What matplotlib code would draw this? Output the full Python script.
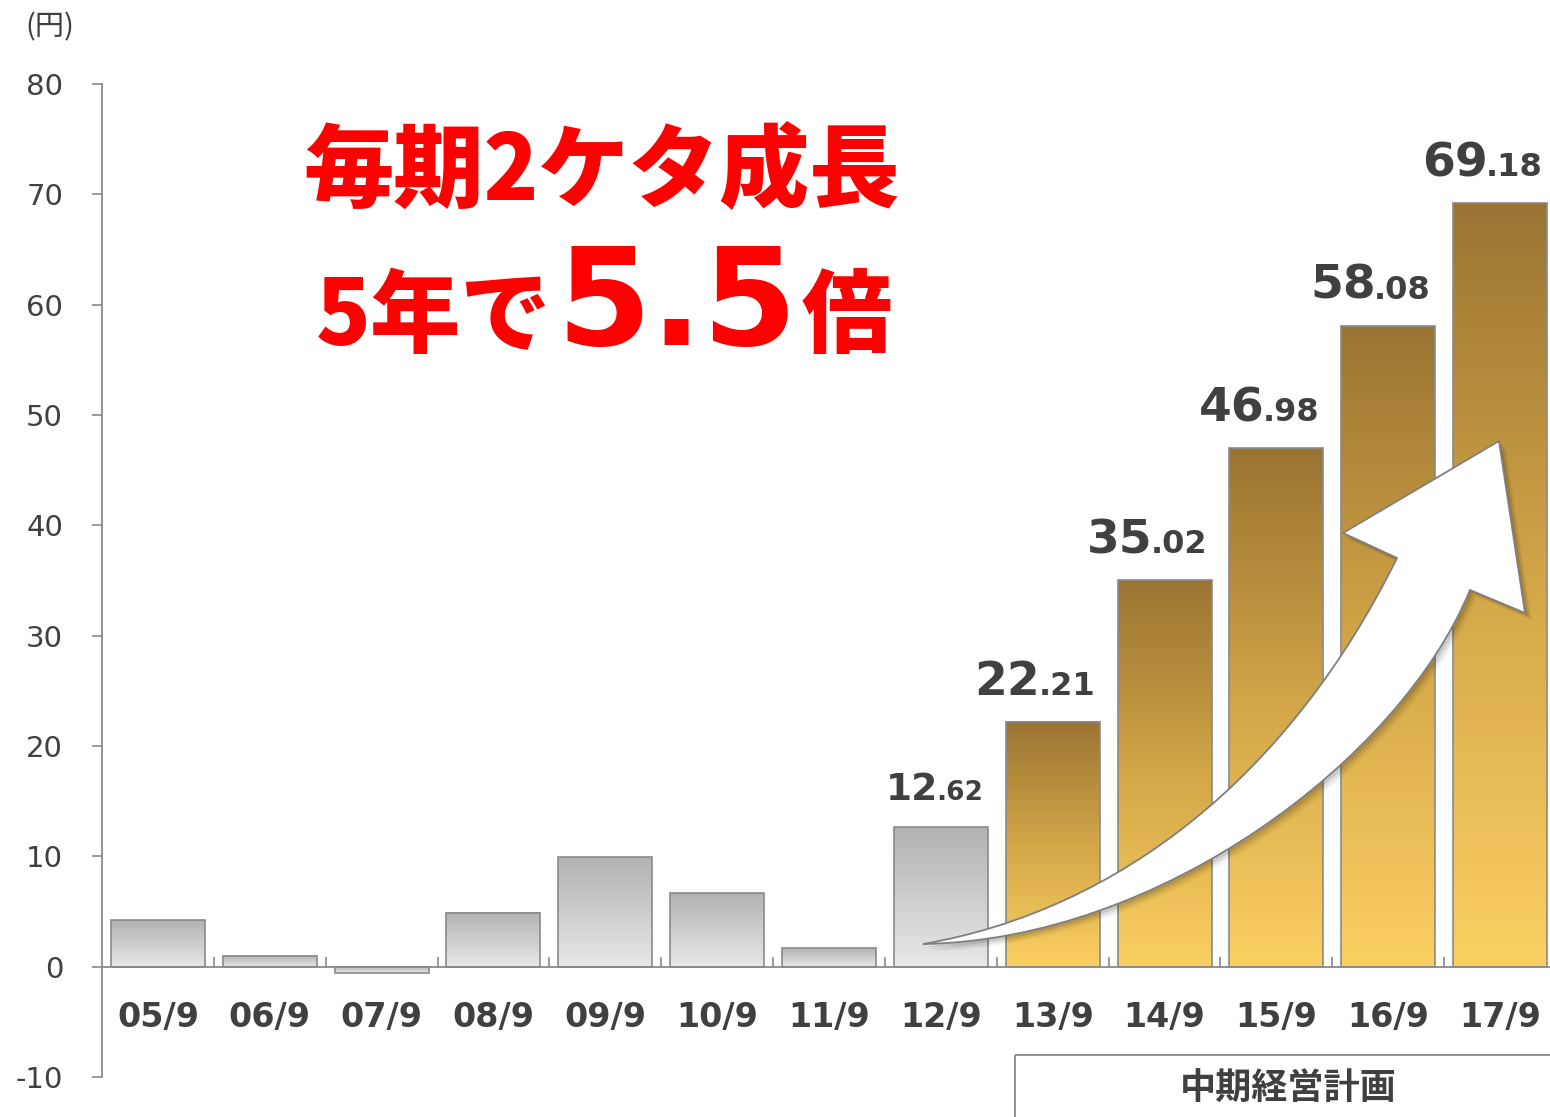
import numpy as np
import matplotlib
matplotlib.use("Agg")
import matplotlib.pyplot as plt
from matplotlib.colors import LinearSegmentedColormap
from matplotlib.path import Path
from matplotlib.patches import PathPatch, Rectangle
from matplotlib.transforms import Affine2D

# ── Données ────────────────────────────────────────────────────────────────────
periodes = ["05/9", "06/9", "07/9", "08/9", "09/9", "10/9", "11/9",
            "12/9", "13/9", "14/9", "15/9", "16/9", "17/9"]
valeurs = [4.2, 1.0, -0.6, 4.9, 9.9, 6.7, 1.7,
           12.62, 22.21, 35.02, 46.98, 58.08, 69.18]
avec_etiquette = [7, 8, 9, 10, 11, 12]   # barres annotées
debut_plan = 8                          # 13/9 → début du plan à moyen terme
yticks = list(range(-10, 90, 10))

# ── Styles ─────────────────────────────────────────────────────────────────────
W, H = 1550, 1117
CJK = ["Noto Sans CJK JP", "DejaVu Sans"]
TXT = "#404040"
GRIS = "#8a8a8a"
ROUGE = "#ff0000"
cm_gris = LinearSegmentedColormap.from_list("gris", ["#b2b2b2", "#e8e8e8"])
cm_or = LinearSegmentedColormap.from_list("or", ["#9a7432", "#d3a648", "#fbd062"])

plt.rcParams["font.family"] = ["DejaVu Sans", "Noto Sans CJK JP"]
plt.rcParams["axes.unicode_minus"] = False

fig = plt.figure(figsize=(W / 100, H / 100), dpi=100)
ax = fig.add_axes([102 / W, (H - 1077) / H, (1556 - 102) / W, (1077 - 84) / H])
px = Affine2D().scale(1 / W, -1 / H).translate(0, 1) + fig.transFigure

# ── Barres avec dégradé ────────────────────────────────────────────────────────
larg = 0.84
x = np.arange(len(valeurs))
grad = np.linspace(0, 1, 256).reshape(-1, 1)
for i, v in enumerate(valeurs):
    cmap = cm_or if i >= debut_plan else cm_gris
    ax.imshow(grad, cmap=cmap, origin="upper", aspect="auto", interpolation="bilinear",
              extent=(i - larg / 2, i + larg / 2, min(0, v), max(0, v)), zorder=2)
ax.bar(x, valeurs, width=larg, facecolor="none", edgecolor=GRIS, linewidth=1.2, zorder=3)

ax.set_xlim(-0.5, 12.5)
ax.set_ylim(-10, 80)

# ── Axes ───────────────────────────────────────────────────────────────────────
for s in ["top", "right"]:
    ax.spines[s].set_visible(False)
ax.spines["bottom"].set_position(("data", 0))
ax.spines["left"].set_color(GRIS)
ax.spines["bottom"].set_color(GRIS)
ax.spines["left"].set_linewidth(1.3)
ax.spines["bottom"].set_linewidth(1.3)

ax.set_yticks(yticks)
ax.tick_params(axis="y", direction="out", length=7, width=1.2, color=GRIS,
               labelsize=21, labelcolor=TXT, pad=21)
ax.set_xticks(x)
ax.set_xticklabels(periodes, fontsize=24, fontweight="bold", color=TXT)
ax.tick_params(axis="x", which="major", length=0, pad=25)
ax.set_xticks(x[:-1] + 0.5, minor=True)
ax.tick_params(axis="x", which="minor", direction="in", length=7, width=1.2, color=GRIS)

# ── Étiquettes de valeur (partie entière grande, décimales petites) ───────────
fig.canvas.draw()
rend = fig.canvas.get_renderer()
for i in avec_etiquette:
    v = valeurs[i]
    ent, dec = f"{v:.2f}".split(".")
    fs_g, fs_p = (27, 19) if i == 7 else (34, 23)
    xr = i + 0.38
    t_p = ax.annotate("." + dec, xy=(xr, v), xytext=(0, 27), textcoords="offset pixels",
                      ha="right", va="baseline", fontsize=fs_p, fontweight="bold",
                      color=TXT, zorder=6)
    w = t_p.get_window_extent(rend).width
    ax.annotate(ent, xy=(xr, v), xytext=(-w + 2, 27), textcoords="offset pixels",
                ha="right", va="baseline", fontsize=fs_g, fontweight="bold",
                color=TXT, zorder=6)

# ── Flèche courbe blanche ──────────────────────────────────────────────────────
pts = [(923, 944), (1120, 910), (1290, 775), (1397, 558),
       (1343, 533), (1499, 441), (1525, 613), (1470, 590),
       (1400, 760), (1160, 940), (923, 944), (923, 944)]
codes = [Path.MOVETO, Path.CURVE4, Path.CURVE4, Path.CURVE4,
         Path.LINETO, Path.LINETO, Path.LINETO, Path.LINETO,
         Path.CURVE4, Path.CURVE4, Path.CURVE4, Path.CLOSEPOLY]
fleche = Path(pts, codes)
for k, a in [(7, 0.05), (5, 0.07), (3, 0.1)]:
    ombre = PathPatch(fleche, facecolor="black", edgecolor="none", alpha=a,
                      transform=Affine2D().translate(k, k) + px, clip_on=False, zorder=7)
    ax.add_patch(ombre)
ax.add_patch(PathPatch(fleche, facecolor="white", edgecolor="#7f7f7f", linewidth=1.3,
                       transform=px, clip_on=False, zorder=8))

# ── Textes ─────────────────────────────────────────────────────────────────────
fig.text(50, 27, "(円)", transform=px, ha="center", va="center",
         fontsize=21, color=TXT, family=CJK)

fig.text(602, 200, "毎期2ケタ成長", transform=px, ha="center", va="baseline",
         fontsize=65, fontweight="black", color=ROUGE, family=CJK)
fig.text(316, 345, "5年で", transform=px, ha="left", va="baseline",
         fontsize=65, fontweight="black", color=ROUGE, family=CJK)
fig.text(556, 345, "5.5", transform=px, ha="left", va="baseline",
         fontsize=98, fontweight="bold", color=ROUGE, family=["DejaVu Sans"])
fig.text(802, 345, "倍", transform=px, ha="left", va="baseline",
         fontsize=65, fontweight="black", color=ROUGE, family=CJK)

# ── Encadré « plan à moyen terme » ─────────────────────────────────────────────
ax.add_patch(Rectangle((1015, 1055), 700, 200, transform=px, fill=False,
                       edgecolor=GRIS, linewidth=1.3, clip_on=False))
fig.text(1288, 1089, "中期経営計画", transform=px, ha="center", va="center",
         fontsize=26, fontweight="bold", color=TXT, family=CJK)

fig.savefig("out.png", dpi=100)
